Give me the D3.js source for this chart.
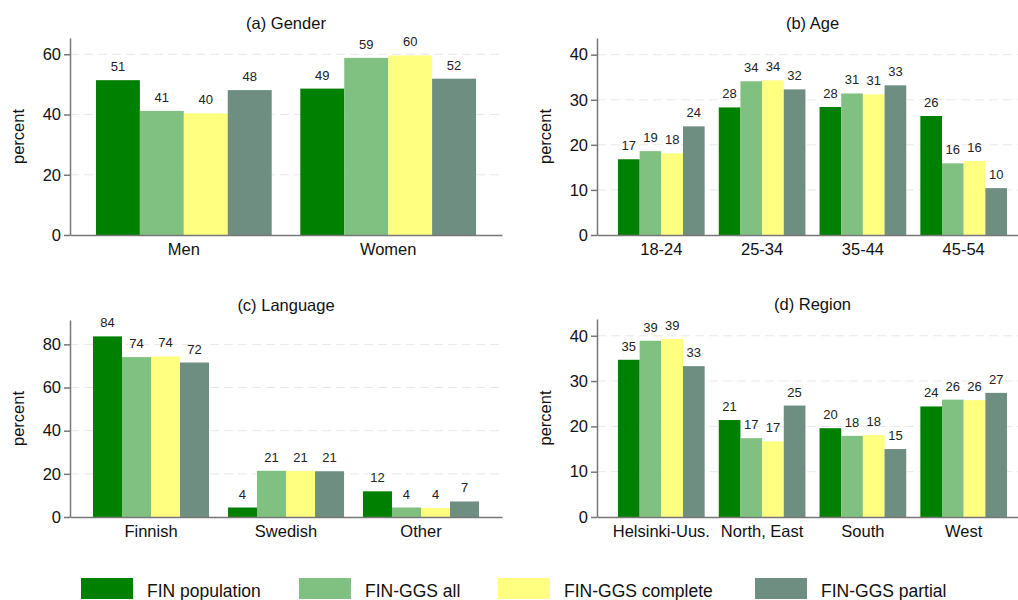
<!DOCTYPE html>
<html>
<head>
<meta charset="utf-8">
<script src="https://cdn.jsdelivr.net/npm/d3@7"></script>
<style>
  body { margin: 0; background: #fff; }
  svg { display: block; font-family: "Liberation Sans", Arial, sans-serif; }
  .grid line { stroke: #e8e8e8; stroke-dasharray: 9,5; }
  .yaxis path, .yaxis line, .xaxis path { stroke: #777; stroke-width: 1.5; }
  .yaxis text, .xaxis text { font-size: 16.5px; fill: #111; }
  .lbl { font-size: 13px; fill: #222; }
  .ttl { font-size: 16.5px; fill: #111; }
</style>
</head>
<body>
<div id="main"></div>
<script>
// series names
var series = ["FIN population", "FIN-GGS all", "FIN-GGS complete", "FIN-GGS partial"];

// (a) gender, one row per series
var genderCats = ["Men", "Women"];
var genderVals = [[51.4, 48.6], [41.2, 58.8], [40.4, 59.6], [48.1, 51.9]];

// (b) age
var ageCats = ["18-24", "25-34", "35-44", "45-54"];
var ageVals = [[16.8, 28.3, 28.4, 26.4], [18.6, 34.1, 31.4, 15.9], [18.1, 34.3, 31.2, 16.4], [24.1, 32.3, 33.2, 10.4]];

// (c) language
var langCats = ["Finnish", "Swedish", "Other"];
var langVals = [[83.7, 4.4, 11.9], [74.1, 21.4, 4.4], [74.4, 21.4, 4.2], [71.6, 21.2, 7.2]];

// (d) region
var regionCats = ["Helsinki-Uus.", "North, East", "South", "West"];
var regionVals = [[34.7, 21.4, 19.6, 24.4], [38.9, 17.4, 17.9, 25.9], [39.3, 16.7, 18.1, 25.8], [33.3, 24.6, 15.0, 27.4]];

var ctx = {
    w: 1018,
    h: 600,
    colors: ["#008000", "#80c080", "#ffff80", "#6e8e82"]
};

var panels = [
    { title: "(a) Gender", cats: genderCats, vals: genderVals, left: 70, right: 502, top: 38, bottom: 235, yMax: 65.4, step: 20, outer: 0.127 },
    { title: "(b) Age", cats: ageCats, vals: ageVals, left: 597, right: 1028, top: 38, bottom: 235, yMax: 43.7, step: 10, outer: 0.208 },
    { title: "(c) Language", cats: langCats, vals: langVals, left: 70, right: 502, top: 320, bottom: 517, yMax: 91.3, step: 20, outer: 0.17 },
    { title: "(d) Region", cats: regionCats, vals: regionVals, left: 597, right: 1028, top: 319, bottom: 517, yMax: 43.7, step: 10, outer: 0.208 }
];

var drawPanel = function(svg, p) {
    var g = svg.append("g");

    var y = d3.scaleLinear().domain([0, p.yMax]).range([p.bottom, p.top]);
    var x = d3.scaleBand().domain(p.cats).range([p.left, p.right])
        .paddingInner(0.14).paddingOuter(p.outer);
    var xs = d3.scaleBand().domain(d3.range(series.length)).range([0, x.bandwidth()]);

    var ticks = d3.range(0, p.yMax, p.step);

    // dashed gridlines (not at zero)
    g.append("g").attr("class", "grid")
        .selectAll("line")
        .data(ticks.filter(function(t) { return t > 0; }))
        .enter().append("line")
        .attr("x1", p.left).attr("x2", Math.min(p.right, ctx.w))
        .attr("y1", function(d) { return y(d); })
        .attr("y2", function(d) { return y(d); });

    // flatten values into bars
    var bars = [];
    p.vals.forEach(function(row, s) {
        row.forEach(function(v, c) {
            bars.push({ s: s, cat: p.cats[c], v: v });
        });
    });

    g.selectAll(".bar")
        .data(bars)
        .enter().append("rect")
        .attr("class", "bar")
        .attr("x", function(d) { return x(d.cat) + xs(d.s); })
        .attr("width", xs.bandwidth())
        .attr("y", function(d) { return y(d.v); })
        .attr("height", function(d) { return p.bottom - y(d.v); })
        .style("fill", function(d) { return ctx.colors[d.s]; });

    g.selectAll(".lbl")
        .data(bars)
        .enter().append("text")
        .attr("class", "lbl")
        .attr("text-anchor", "middle")
        .attr("x", function(d) { return x(d.cat) + xs(d.s) + xs.bandwidth() / 2; })
        .attr("y", function(d) { return y(d.v) - 9; })
        .text(function(d) { return d3.format(".0f")(d.v); });

    // axes
    g.append("g").attr("class", "xaxis")
        .attr("transform", "translate(0," + p.bottom + ")")
        .call(d3.axisBottom(x).tickSize(0).tickSizeOuter(0).tickPadding(8));

    g.append("g").attr("class", "yaxis")
        .attr("transform", "translate(" + p.left + ",0)")
        .call(d3.axisLeft(y).tickValues(ticks).tickSize(6).tickSizeOuter(0).tickPadding(3));

    g.append("text")
        .attr("class", "ttl")
        .attr("text-anchor", "middle")
        .attr("x", (p.left + p.right) / 2)
        .attr("y", p.top - 9)
        .text(p.title);

    g.append("text")
        .attr("class", "ttl")
        .attr("text-anchor", "middle")
        .attr("transform", "translate(" + (p.left - 46) + "," + ((p.top + p.bottom) / 2) + ") rotate(-90)")
        .text("percent");
};

var drawLegend = function(svg) {
    var xs = [81, 299, 498, 755];
    var lg = svg.append("g").selectAll("g")
        .data(series)
        .enter().append("g")
        .attr("transform", function(d, i) { return "translate(" + xs[i] + ",578)"; });
    lg.append("rect")
        .attr("width", 52).attr("height", 21)
        .style("fill", function(d, i) { return ctx.colors[i]; });
    lg.append("text")
        .attr("x", 66).attr("y", 19)
        .style("font-size", "17.5px").style("fill", "#111")
        .text(function(d) { return d; });
};

var createViz = function() {
    var svg = d3.select("#main").append("svg")
        .attr("width", ctx.w)
        .attr("height", ctx.h);
    panels.forEach(function(p) { drawPanel(svg, p); });
    drawLegend(svg);
};

createViz();
</script>
</body>
</html>
